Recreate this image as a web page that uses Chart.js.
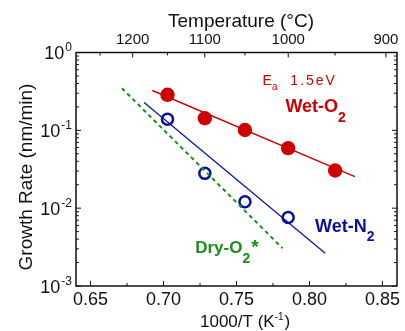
<!DOCTYPE html>
<html>
<head>
<meta charset="utf-8">
<script src="https://cdn.jsdelivr.net/npm/chart.js@4.4.0/dist/chart.umd.min.js"></script>
<style>
body{margin:0;background:#fff;}
</style>
</head>
<body>
<canvas id="myChart" width="405" height="331"></canvas>
<script>
// x = 1000/T (1/K), y = growth rate (nm/min)
// measured at 1150, 1100, 1050, 1000, 950 C
const wetO2X = [0.7027, 0.7283, 0.7558, 0.7854, 0.8176];
const wetO2Y = [0.286, 0.143, 0.101, 0.059, 0.0305];
const wetN2X = [0.7027, 0.7283, 0.7558, 0.7854];
const wetN2Y = [0.139, 0.028, 0.0121, 0.0076];

// fitted lines (end points)
const wetO2FitX = [0.6923, 0.8311];
const wetO2FitY = [0.325, 0.0255];
const wetN2FitX = [0.6867, 0.8108];
const wetN2FitY = [0.228, 0.00264];
const dryO2FitX = [0.6714, 0.7815];
const dryO2FitY = [0.348, 0.00306];

// axes
const xTicks = [0.65, 0.70, 0.75, 0.80, 0.85];
const xMinorTicks = [0.675, 0.725, 0.775, 0.825];
const yTicks = [0.001, 0.01, 0.1, 1];
const tempLabels = [1200, 1100, 1000, 900];
const tempMinor = [1250, 1150, 1050, 950];

const RED = '#cc0000';
const BLUE = '#0a0fa0';
const GREEN = '#1a8f1a';
const INK = '#111';
const FONT = '"Liberation Sans", Arial, sans-serif';

function toPoints(xs, ys){
  return xs.map((x, i) => ({x: x, y: ys[i]}));
}

function tempToX(t){
  return 1000 / (t + 273.15);
}

// draw a row of text pieces, each with its own font and baseline shift
function drawPieces(ctx, x, y, pieces){
  let cx = x;
  pieces.forEach(p => {
    ctx.font = p.font;
    if (p.spacing) {
      for (const ch of p.text) {
        ctx.fillText(ch, cx, y + (p.dy || 0));
        cx += ctx.measureText(ch).width + p.spacing;
      }
    } else {
      ctx.fillText(p.text, cx + (p.dx || 0), y + (p.dy || 0));
      cx += ctx.measureText(p.text).width + (p.dx || 0);
    }
  });
  return cx;
}

const decorPlugin = {
  id: 'decor',
  afterDraw(chart){
    const ctx = chart.ctx;
    const a = chart.chartArea;
    const xs = chart.scales.x;
    const ys = chart.scales.y;
    ctx.save();

    // frame
    ctx.strokeStyle = INK;
    ctx.lineWidth = 1.5;
    ctx.strokeRect(a.left, a.top, a.right - a.left, a.bottom - a.top);

    // inward ticks
    ctx.lineWidth = 1;
    ctx.beginPath();
    function vTick(px, len){
      ctx.moveTo(px, a.bottom); ctx.lineTo(px, a.bottom - len);
    }
    function topTick(px, len){
      ctx.moveTo(px, a.top); ctx.lineTo(px, a.top + len);
    }
    function hTick(py, len){
      ctx.moveTo(a.left, py); ctx.lineTo(a.left + len, py);
      ctx.moveTo(a.right, py); ctx.lineTo(a.right - len, py);
    }
    xTicks.forEach(v => vTick(xs.getPixelForValue(v), 5));
    xMinorTicks.forEach(v => vTick(xs.getPixelForValue(v), 3));
    tempLabels.forEach(t => topTick(xs.getPixelForValue(tempToX(t)), 5));
    tempMinor.forEach(t => topTick(xs.getPixelForValue(tempToX(t)), 3));
    yTicks.forEach(v => hTick(ys.getPixelForValue(v), 5));
    for (let d = 0.001; d < 0.9; d *= 10) {
      for (let m = 2; m <= 9; m++) hTick(ys.getPixelForValue(m * d), 3);
    }
    ctx.stroke();

    // y tick labels 10^n
    ctx.fillStyle = INK;
    ctx.textBaseline = 'alphabetic';
    yTicks.forEach(v => {
      const py = ys.getPixelForValue(v);
      const exp = String(Math.round(Math.log10(v)));
      ctx.font = '12px ' + FONT;
      const ew = ctx.measureText(exp).width;
      ctx.font = '18px ' + FONT;
      const bw = ctx.measureText('10').width;
      const right = a.left - 4;
      ctx.fillText('10', right - ew - bw - 1, py + 6.5);
      ctx.font = '12px ' + FONT;
      ctx.fillText(exp, right - ew, py - 1.5);
    });

    // axis titles
    ctx.font = '19px ' + FONT;
    ctx.textAlign = 'center';
    ctx.fillText('Temperature (\u00b0C)', 241, 27);

    ctx.textAlign = 'left';
    drawPieces(ctx, 200, 327, [
      {text: '1000/T (K', font: '17px ' + FONT},
      {text: '-1', font: '10px ' + FONT, dy: -7},
      {text: ')', font: '17px ' + FONT, dx: 1}
    ]);

    ctx.save();
    ctx.translate(32, 177);
    ctx.rotate(-Math.PI / 2);
    ctx.textAlign = 'center';
    ctx.font = '19px ' + FONT;
    ctx.fillText('Growth Rate (nm/min)', 0, 0);
    ctx.restore();

    // series labels, anchored in data space
    function at(xv, yv){
      return [xs.getPixelForValue(xv), ys.getPixelForValue(yv)];
    }
    let p;
    ctx.fillStyle = RED;
    p = at(0.7679, 0.385);
    drawPieces(ctx, p[0], p[1], [
      {text: 'E', font: '14px ' + FONT},
      {text: 'a', font: '10px ' + FONT, dy: 5}
    ]);
    p = at(0.7869, 0.385);
    drawPieces(ctx, p[0], p[1], [{text: '1.5eV', font: '14px ' + FONT, spacing: 2}]);
    p = at(0.7835, 0.173);
    drawPieces(ctx, p[0], p[1], [
      {text: 'Wet-O', font: 'bold 18px ' + FONT},
      {text: '2', font: 'bold 14px ' + FONT, dy: 10}
    ]);

    ctx.fillStyle = BLUE;
    p = at(0.8038, 0.0050);
    drawPieces(ctx, p[0], p[1], [
      {text: 'Wet-N', font: 'bold 18px ' + FONT},
      {text: '2', font: 'bold 14px ' + FONT, dy: 9}
    ]);

    ctx.fillStyle = GREEN;
    p = at(0.7217, 0.00264);
    drawPieces(ctx, p[0], p[1], [
      {text: 'Dry-O', font: 'bold 17px ' + FONT},
      {text: '2', font: 'bold 14px ' + FONT, dy: 10},
      {text: '*', font: 'bold 19px ' + FONT, dx: 1, dy: 0}
    ]);

    ctx.restore();
  }
};

const ctx = document.getElementById('myChart');

new Chart(ctx, {
  type: 'scatter',
  data: {
    datasets: [
      {
        label: 'Dry-O2 fit',
        data: toPoints(dryO2FitX, dryO2FitY),
        showLine: true,
        borderColor: GREEN,
        borderWidth: 2,
        borderDash: [4, 3.5],
        pointRadius: 0
      },
      {
        label: 'Wet-N2 fit',
        data: toPoints(wetN2FitX, wetN2FitY),
        showLine: true,
        borderColor: BLUE,
        borderWidth: 1.2,
        pointRadius: 0
      },
      {
        label: 'Wet-O2 fit',
        data: toPoints(wetO2FitX, wetO2FitY),
        showLine: true,
        borderColor: RED,
        borderWidth: 1.4,
        pointRadius: 0
      },
      {
        label: 'Wet-N2',
        data: toPoints(wetN2X, wetN2Y),
        pointRadius: 5.5,
        pointBorderWidth: 2.5,
        borderColor: BLUE,
        backgroundColor: '#fff'
      },
      {
        label: 'Wet-O2',
        data: toPoints(wetO2X, wetO2Y),
        pointRadius: 7.2,
        pointBorderWidth: 0,
        borderColor: RED,
        backgroundColor: RED
      }
    ]
  },
  options: {
    responsive: false,
    animation: false,
    layout: {padding: {left: 0, right: 4, top: 0, bottom: 0}},
    plugins: {
      legend: {display: false},
      tooltip: {enabled: false}
    },
    scales: {
      x: {
        type: 'linear',
        position: 'bottom',
        min: 0.64,
        max: 0.86,
        afterBuildTicks: s => { s.ticks = xTicks.map(v => ({value: v})); },
        afterFit: s => { s.height = 45; },
        grid: {display: false, drawTicks: false},
        border: {display: false},
        ticks: {
          color: INK,
          padding: 3,
          maxRotation: 0,
          autoSkip: false,
          font: {family: FONT, size: 18},
          callback: v => v.toFixed(2)
        }
      },
      xTop: {
        type: 'linear',
        position: 'top',
        min: 0.64,
        max: 0.86,
        afterBuildTicks: s => { s.ticks = tempLabels.map(t => ({value: tempToX(t)})); },
        afterFit: s => { s.height = 52.5; },
        grid: {display: false, drawTicks: false},
        border: {display: false},
        ticks: {
          color: INK,
          padding: 4,
          maxRotation: 0,
          autoSkip: false,
          font: {family: FONT, size: 15},
          callback: (v, i) => String(tempLabels[i])
        }
      },
      y: {
        type: 'logarithmic',
        position: 'left',
        min: 0.001,
        max: 1,
        afterFit: s => { s.width = 76; },
        grid: {display: false, drawTicks: false},
        border: {display: false},
        ticks: {display: false}
      }
    }
  },
  plugins: [decorPlugin]
});
</script>
</body>
</html>
